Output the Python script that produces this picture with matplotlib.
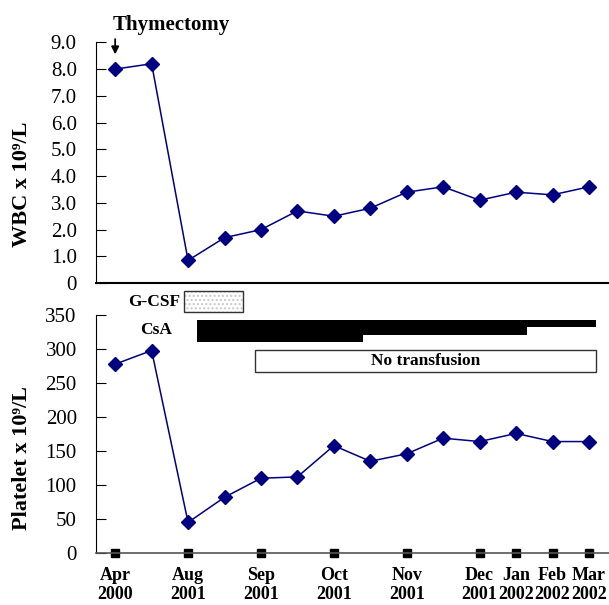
import matplotlib
matplotlib.use("Agg")
import matplotlib.pyplot as plt
from matplotlib.patches import Rectangle

# data
months = ["Apr\n2000", "", "Aug\n2001", "", "Sep\n2001", "", "Oct\n2001", "",
          "Nov\n2001", "", "Dec\n2001", "Jan\n2002", "Feb\n2002", "Mar\n2002"]
wbc = [8.0, 8.2, 0.85, 1.7, 2.0, 2.7, 2.5, 2.8, 3.4, 3.6, 3.1, 3.4, 3.3, 3.6]
platelet = [278, 298, 45, 82, 110, 112, 158, 135, 146, 169, 164, 176, 164, 164]

# treatment periods (start, end) in time-point units
gcsf_span = (1.9, 3.5)
csa_spans = [(2.25, 13.2), (2.25, 11.3), (2.25, 6.8)]
no_transfusion_span = (3.85, 13.2)

plt.rcParams["font.family"] = ["Liberation Serif", "DejaVu Serif"]

fig = plt.figure(figsize=(6.09, 6.05), dpi=100)
ax1 = fig.add_axes([0.158, 0.532, 0.842, 0.398])
ax2 = fig.add_axes([0.158, 0.086, 0.842, 0.393])

x = list(range(len(months)))
line_kw = dict(color="#000080", marker="D", markersize=7, linewidth=1.1)

for ax in (ax1, ax2):
    ax.spines["top"].set_visible(False)
    ax.spines["right"].set_visible(False)
    ax.set_xlim(-0.52, 13.55)
    ax.tick_params(axis="y", direction="in", length=7, labelsize=15, pad=14)

# WBC panel
ax1.plot(x, wbc, **line_kw)
ax1.set_ylim(0, 9)
ax1.set_yticks(range(10))
ax1.set_yticklabels(["0"] + [f"{v:.1f}" for v in range(1, 10)])
ax1.set_xticks([])
ax1.spines["bottom"].set_linewidth(1.5)
ax1.set_ylabel("WBC x 10\u2079/L", fontsize=16, fontweight="bold")
ax1.yaxis.set_label_coords(-0.125, 0.41)
ax1.annotate("", xy=(0, 8.55), xytext=(0, 9.12),
             arrowprops=dict(arrowstyle="-|>", color="black", lw=1.3,
                             mutation_scale=11, shrinkA=0, shrinkB=0),
             annotation_clip=False)
ax1.text(-0.08, 9.65, "Thymectomy", fontsize=15, fontweight="bold", ha="left", va="center")

# Platelet panel
ax2.plot(x, platelet, **line_kw)
ax2.set_ylim(0, 350)
ax2.set_yticks(range(0, 351, 50))
ax2.set_ylabel("Platelet x 10\u2079/L", fontsize=16, fontweight="bold")
ax2.yaxis.set_label_coords(-0.125, 0.40)
ax2.spines["bottom"].set_color("#555555")
ax2.spines["bottom"].set_linewidth(1.2)
tick_pos = [i for i, m in enumerate(months) if m]
ax2.set_xticks(tick_pos)
ax2.set_xticklabels([m for m in months if m], fontsize=13, fontweight="bold")
ax2.tick_params(axis="x", length=0, pad=10)
ax2.plot(tick_pos, [0] * len(tick_pos), "s", color="black", markersize=6, clip_on=False)

# G-CSF box: light dotted fill plus outline
gx, gw = gcsf_span[0], gcsf_span[1] - gcsf_span[0]
ax2.add_patch(Rectangle((gx, 354), gw, 32, facecolor="white", edgecolor="#c8c8c8",
                        hatch="....", linewidth=0, clip_on=False))
ax2.add_patch(Rectangle((gx, 354), gw, 32, facecolor="none", edgecolor="#333333",
                        linewidth=1, clip_on=False))
ax2.text(gx - 0.12, 370, "G-CSF", fontsize=12.5, fontweight="bold",
         ha="right", va="center")

# CsA bars (stepped)
row_h = 11
for k, (s, e) in enumerate(csa_spans):
    ax2.add_patch(Rectangle((s, 343 - (k + 1) * row_h), e - s, row_h,
                            facecolor="black", edgecolor="black", linewidth=0,
                            clip_on=False))
ax2.text(1.57, 328, "CsA", fontsize=12.5, fontweight="bold", ha="right", va="center")

# no transfusion box
ax2.add_patch(Rectangle((no_transfusion_span[0], 266),
                        no_transfusion_span[1] - no_transfusion_span[0], 33,
                        facecolor="white", edgecolor="#333333", linewidth=1))
ax2.text(sum(no_transfusion_span) / 2, 282, "No transfusion", fontsize=12.5,
         fontweight="bold", ha="center", va="center")

fig.savefig("out.png", dpi=100)
